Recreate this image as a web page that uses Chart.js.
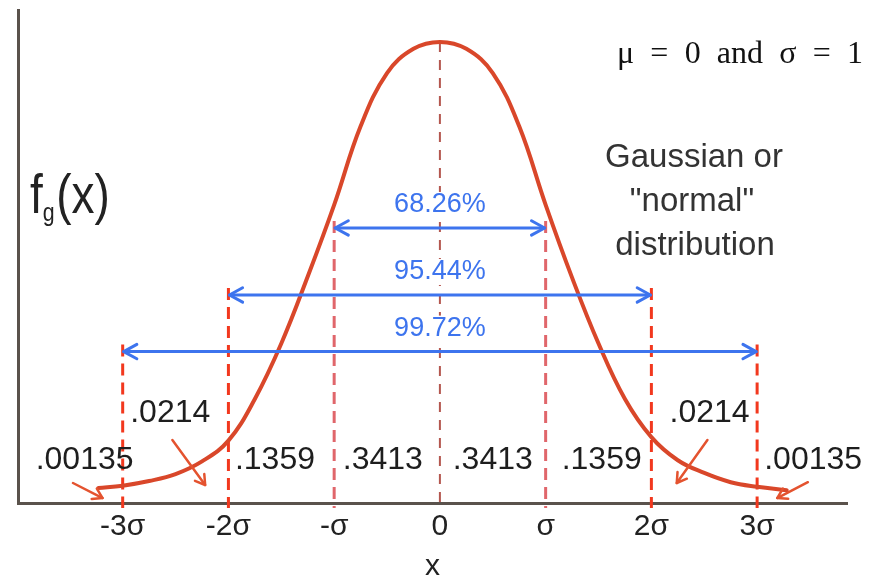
<!DOCTYPE html>
<html>
<head>
<meta charset="utf-8">
<title>Normal distribution</title>
<script src="https://cdn.jsdelivr.net/npm/chart.js@4.4.1/dist/chart.umd.min.js"></script>
<style>
  html, body { margin: 0; padding: 0; background: #fff; }
  #wrap { width: 871px; height: 579px; }
</style>
</head>
<body>
<div id="wrap"><canvas id="myChart" width="871" height="579"></canvas></div>
<script>
// curve samples: x in units of sigma, y = density
const curveX = [-3.23, -3, -2.75, -2.5, -2.25, -2, -1.75, -1.5, -1.25, -1, -0.75, -0.5, -0.25, 0,
                0.25, 0.5, 0.75, 1, 1.25, 1.5, 1.75, 2, 2.25, 2.5, 2.75, 3, 3.28];
const curveY = [0.013, 0.015, 0.019, 0.025, 0.036, 0.054, 0.090, 0.138, 0.196, 0.258, 0.326, 0.372, 0.393, 0.399,
                0.393, 0.372, 0.326, 0.258, 0.195, 0.138, 0.090, 0.057, 0.037, 0.026, 0.018, 0.014, 0.011];

const tickValues = [-3, -2, -1, 0, 1, 2, 3];
const tickLabels = ['-3σ', '-2σ', '-σ', '0', 'σ', '2σ', '3σ'];

// coverage bands: half width in sigma, arrow height, label
const bandSigma = [1, 2, 3];
const bandLevel = [0.238, 0.180, 0.131];
const bandLabels = ['68.26%', '95.44%', '99.72%'];

// probability of each slice between the sigma lines
const areaLabels = ['.00135', '.0214', '.1359', '.3413', '.3413', '.1359', '.0214', '.00135'];

// where the slice labels sit (sigma, density)
const areaLabelX = [-3.36, -2.55, -1.56, -0.54, 0.50, 1.53, 2.55, 3.53];
const areaLabelY = [0.037, 0.078, 0.037, 0.037, 0.037, 0.037, 0.078, 0.037];

// small pointers from the tail labels to the curve: [x1, y1, x2, y2]
const pointers = [
    [-3.47, 0.0173, -3.19, 0.0043],
    [-2.53, 0.0545, -2.22, 0.0156],
    [2.53, 0.0545, 2.24, 0.0173],
    [3.48, 0.0180, 3.19, 0.0043]
];

const SANS = '"Liberation Sans", Arial, Helvetica, sans-serif';
const SERIF = '"Liberation Serif", "Times New Roman", serif';
const RED = '#d9472a';
const BLUE = '#3d74ee';

function dashedLine(ctx, x, y1, y2, color, width, dash) {
    ctx.save();
    ctx.strokeStyle = color;
    ctx.lineWidth = width;
    ctx.setLineDash(dash);
    ctx.beginPath();
    ctx.moveTo(x, y1);
    ctx.lineTo(x, y2);
    ctx.stroke();
    ctx.restore();
}

function arrowHead(ctx, tipX, tipY, fromX, fromY, len, spread) {
    const a = Math.atan2(tipY - fromY, tipX - fromX);
    ctx.beginPath();
    ctx.moveTo(tipX - len * Math.cos(a - spread), tipY - len * Math.sin(a - spread));
    ctx.lineTo(tipX, tipY);
    ctx.lineTo(tipX - len * Math.cos(a + spread), tipY - len * Math.sin(a + spread));
    ctx.stroke();
}

const overlay = {
    id: 'overlay',
    beforeDatasetsDraw(chart) {
        const { ctx, scales: { x, y } } = chart;
        const base = y.getPixelForValue(0) + 5;

        // mean
        dashedLine(ctx, x.getPixelForValue(0), y.getPixelForValue(0.399), base, '#b4574f', 2, [10, 8]);

        // sigma lines, starting at their band arrow
        bandSigma.forEach((s, i) => {
            const top = y.getPixelForValue(bandLevel[i]) - 7;
            const col = s === 1 ? '#e0666b' : '#f2381e';
            [-s, s].forEach(v => dashedLine(ctx, x.getPixelForValue(v), top, base, col, 3, [12, 7]));
        });
    },
    afterDatasetsDraw(chart) {
        const { ctx, scales: { x, y } } = chart;
        ctx.save();

        // band arrows with their percentages
        bandSigma.forEach((s, i) => {
            const x1 = x.getPixelForValue(-s) + 1;
            const x2 = x.getPixelForValue(s) - 1;
            const yy = y.getPixelForValue(bandLevel[i]);
            ctx.strokeStyle = BLUE;
            ctx.lineWidth = 3;
            ctx.lineCap = 'round';
            ctx.lineJoin = 'round';
            ctx.beginPath();
            ctx.moveTo(x1, yy);
            ctx.lineTo(x2, yy);
            ctx.stroke();
            arrowHead(ctx, x1, yy, x2, yy, 15, 0.5);
            arrowHead(ctx, x2, yy, x1, yy, 15, 0.5);

            ctx.font = '27px ' + SANS;
            ctx.textAlign = 'center';
            ctx.textBaseline = 'middle';
            const cx = x.getPixelForValue(0);
            const cy = yy - 23;
            const w = ctx.measureText(bandLabels[i]).width;
            ctx.fillStyle = '#fff';
            ctx.fillRect(cx - w / 2 - 2, cy - 13, w + 4, 26);
            ctx.fillStyle = BLUE;
            ctx.fillText(bandLabels[i], cx, cy);
        });

        // slice probabilities
        ctx.font = '32px ' + SANS;
        ctx.fillStyle = '#1e1e1e';
        ctx.textAlign = 'center';
        ctx.textBaseline = 'middle';
        areaLabels.forEach((t, i) => {
            ctx.fillText(t, x.getPixelForValue(areaLabelX[i]), y.getPixelForValue(areaLabelY[i]));
        });

        // tail pointers
        ctx.strokeStyle = '#e4532f';
        ctx.lineWidth = 2.5;
        ctx.lineCap = 'round';
        pointers.forEach(p => {
            const px1 = x.getPixelForValue(p[0]), py1 = y.getPixelForValue(p[1]);
            const px2 = x.getPixelForValue(p[2]), py2 = y.getPixelForValue(p[3]);
            ctx.beginPath();
            ctx.moveTo(px1, py1);
            ctx.lineTo(px2, py2);
            ctx.stroke();
            arrowHead(ctx, px2, py2, px1, py1, 11, 0.55);
        });
        ctx.restore();
    },
    afterDraw(chart) {
        const { ctx } = chart;
        ctx.save();

        // y axis label f_g(x)
        ctx.fillStyle = '#222';
        ctx.textBaseline = 'alphabetic';
        ctx.textAlign = 'left';
        ctx.translate(30, 213);
        ctx.scale(0.82, 1);
        ctx.font = '56px ' + SANS;
        ctx.fillText('f', 0, 0);
        let cx = ctx.measureText('f').width;
        ctx.font = '26px ' + SANS;
        ctx.fillText('g', cx, 8);
        cx += ctx.measureText('g').width + 2;
        ctx.font = '56px ' + SANS;
        ctx.fillText('(x)', cx, 0);
        ctx.restore();

        ctx.save();
        // parameters
        ctx.fillStyle = '#111';
        ctx.font = '32px ' + SERIF;
        ctx.textAlign = 'left';
        ctx.textBaseline = 'alphabetic';
        const params = 'μ = 0 and σ = 1';
        ctx.wordSpacing = '0px';
        const w = ctx.measureText(params).width;
        ctx.wordSpacing = Math.max(0, (246 - w) / 6) + 'px';
        ctx.fillText(params, 617, 63);
        ctx.wordSpacing = '0px';

        // caption
        ctx.fillStyle = '#333';
        ctx.font = '33px ' + SANS;
        ctx.textAlign = 'center';
        ctx.fillText('Gaussian or', 694, 167);
        ctx.fillText('"normal"', 692, 211);
        ctx.fillText('distribution', 695, 255);
        ctx.restore();
    }
};

function renderChart() {
    const ctx = document.getElementById('myChart').getContext('2d');
    return new Chart(ctx, {
        type: 'line',
        data: {
            datasets: [{
                data: curveX.map((v, i) => ({ x: v, y: curveY[i] })),
                borderColor: RED,
                borderWidth: 4,
                pointRadius: 0,
                tension: 0.4,
                borderCapStyle: 'round',
                fill: false
            }]
        },
        options: {
            responsive: false,
            animation: false,
            layout: { padding: { left: 18, right: 24, top: 10, bottom: 0 } },
            plugins: { legend: { display: false }, tooltip: { enabled: false } },
            scales: {
                x: {
                    type: 'linear',
                    min: -3.99,
                    max: 3.85,
                    grid: { display: false, drawTicks: false },
                    border: { display: true, color: '#5a524c', width: 3 },
                    afterBuildTicks: s => { s.ticks = tickValues.map(v => ({ value: v })); },
                    afterFit: s => { s.height = 76; },
                    ticks: {
                        autoSkip: false,
                        maxRotation: 0,
                        padding: 6,
                        color: '#222',
                        font: { family: SANS, size: 30 },
                        callback: v => tickLabels[tickValues.indexOf(v)]
                    },
                    title: {
                        display: true,
                        text: 'x',
                        color: '#222',
                        padding: 0,
                        font: { family: SANS, size: 30, lineHeight: 0.8 }
                    }
                },
                y: {
                    min: 0,
                    max: 0.4266,
                    grid: { display: false, drawTicks: false },
                    border: { display: true, color: '#5a524c', width: 3 },
                    ticks: { display: false },
                    afterFit: s => { s.width = 0; }
                }
            }
        },
        plugins: [overlay]
    });
}

renderChart();
</script>
</body>
</html>
